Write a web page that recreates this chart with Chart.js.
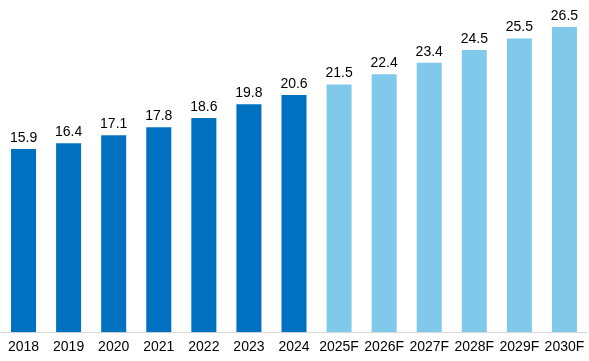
<!DOCTYPE html>
<html>
<head>
<meta charset="utf-8">
<script src="https://cdn.jsdelivr.net/npm/chart.js@4"></script>
<style>
  html, body { margin: 0; padding: 0; background: #fff; }
  #wrap { width: 589px; height: 361px; }
</style>
</head>
<body>
<div id="wrap"><canvas id="chart"></canvas></div>
<script>
// data
const years = ["2018", "2019", "2020", "2021", "2022", "2023", "2024",
  "2025F", "2026F", "2027F", "2028F", "2029F", "2030F"];
const values = [15.9, 16.4, 17.1, 17.8, 18.6, 19.8, 20.6,
  21.5, 22.4, 23.4, 24.5, 25.5, 26.5];

const actualColor = "#0070C0";
const forecastColor = "#80C9EA";

// value labels over bars
const barLabels = {
  id: "barLabels",
  afterDatasetsDraw(chart) {
    const ctx = chart.ctx;
    const meta = chart.getDatasetMeta(0);
    ctx.save();
    ctx.font = "14px 'Liberation Sans', Arial, sans-serif";
    ctx.fillStyle = "#000";
    ctx.textAlign = "center";
    ctx.textBaseline = "bottom";
    meta.data.forEach((bar, i) => {
      ctx.fillText(values[i].toFixed(1), bar.x, bar.y - 4);
    });
    ctx.restore();
  }
};

new Chart(document.getElementById("chart"), {
  type: "bar",
  data: {
    labels: years,
    datasets: [{
      data: values,
      backgroundColor: years.map(y => y.endsWith("F") ? forecastColor : actualColor),
      barPercentage: 0.555,
      categoryPercentage: 1
    }]
  },
  options: {
    responsive: true,
    maintainAspectRatio: false,
    animation: false,
    layout: { padding: { left: 1, right: 2, top: 0, bottom: 0 } },
    plugins: {
      legend: { display: false },
      tooltip: { enabled: false }
    },
    scales: {
      y: {
        display: false,
        min: 0,
        max: 28.84
      },
      x: {
        grid: { display: false, drawTicks: false },
        border: { color: "#d9d9d9", width: 1 },
        afterFit: s => { s.paddingLeft = 0; s.paddingRight = 0; },
        ticks: {
          color: "#000",
          font: { size: 14, lineHeight: 0.62, family: "'Liberation Sans', Arial, sans-serif" },
          padding: 10,
          maxRotation: 0,
          autoSkip: false
        }
      }
    }
  },
  plugins: [barLabels]
});
</script>
</body>
</html>
